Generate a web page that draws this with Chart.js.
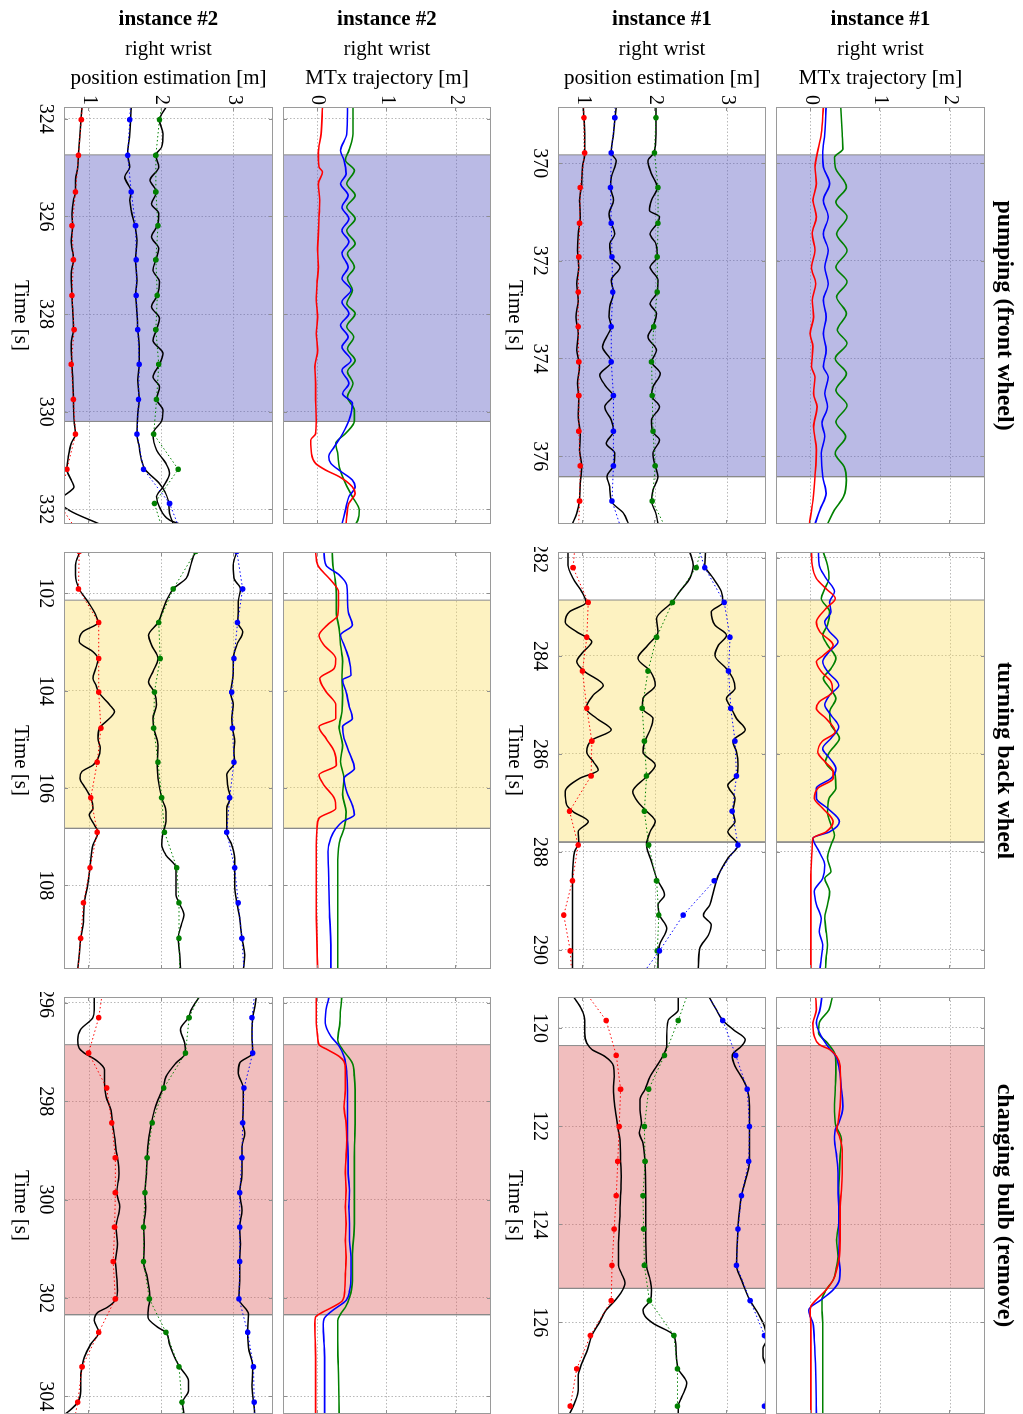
<!DOCTYPE html>
<html>
<head>
<meta charset="utf-8">
<script src="https://cdn.jsdelivr.net/npm/chart.js@4.4.1/dist/chart.umd.min.js"></script>
<style>
html, body { margin: 0; padding: 0; background: #fff; overflow: hidden; }
/* the figure is laid out in landscape and turned a quarter clockwise */
#fig { position: absolute; left: 0; top: 0; width: 1414px; height: 1023px;
       transform-origin: 0 0; transform: translateX(1023px) rotate(90deg); }
#fig canvas { position: absolute; }
</style>
</head>
<body>
<div id="fig"></div>
<script>
// ---------- pumping (front wheel), instance #1 ----------
const pump1Time = [368.85, 377.39];
const pump1Ticks = [370, 372, 374, 376];
const pump1Band = [369.83, 376.42];
const pump1RedT = [368.85,369.40,369.81,370.08,370.42,370.76,371.10,371.45,371.79,372.13,372.47,372.81,373.15,373.49,373.76,374.17,374.38,374.72,374.99,375.40,375.88,376.42,376.90,377.39];
const pump1RedV = [0.18,0.15,0.09,0.06,0.08,0.03,0.08,0.02,0.06,0.01,0.07,0.02,0.04,-0.01,0.03,0.01,0.06,0.04,0.09,0.04,0.08,0.06,0.03,-0.02];
const pump1BlueT = [368.85,369.40,369.81,370.08,370.42,370.76,371.10,371.45,371.79,372.13,372.47,372.81,373.15,373.49,373.83,374.17,374.38,374.72,374.99,375.33,375.60,375.94,376.42,376.76,377.10,377.39];
const pump1BlueV = [0.22,0.20,0.17,0.18,0.27,0.18,0.25,0.18,0.25,0.20,0.25,0.18,0.22,0.18,0.22,0.18,0.25,0.20,0.24,0.16,0.20,0.15,0.17,0.22,0.13,0.06];
const pump1GreenT = [368.85,369.40,369.71,369.88,370.08,370.49,370.80,371.10,371.45,371.79,372.13,372.43,372.74,373.08,373.42,373.69,374.00,374.31,374.65,374.96,375.30,375.60,375.94,376.22,376.49,376.83,377.10,377.39];
const pump1GreenV = [0.43,0.45,0.46,0.34,0.35,0.51,0.36,0.52,0.37,0.52,0.36,0.52,0.37,0.51,0.38,0.52,0.35,0.51,0.36,0.52,0.36,0.50,0.35,0.48,0.51,0.47,0.34,0.24];
const pump1KaT = [368.85,369.40,369.81,370.08,370.42,370.76,371.10,371.45,371.79,372.13,372.47,372.81,373.15,373.49,373.83,374.17,374.51,374.85,375.19,375.54,375.88,376.22,376.56,376.90,377.17,377.39];
const pump1KaV = [1.00,1.02,1.02,0.99,0.98,0.95,0.96,0.93,0.92,0.94,0.91,0.93,0.90,0.93,0.91,0.95,0.92,0.94,0.93,0.96,0.95,0.98,0.96,0.95,0.91,0.85];
const pump1KbT = [368.85,369.13,369.40,369.79,369.95,370.29,370.50,370.76,371.04,371.23,371.45,371.65,371.92,372.13,372.40,372.64,372.94,373.15,373.35,373.49,373.76,374.07,374.34,374.58,374.76,374.99,375.26,375.49,375.74,375.94,376.20,376.42,376.63,376.92,377.17,377.39];
const pump1KbV = [1.46,1.44,1.42,1.39,1.46,1.39,1.38,1.42,1.36,1.39,1.44,1.37,1.39,1.51,1.39,1.42,1.37,1.36,1.39,1.35,1.27,1.39,1.23,1.32,1.41,1.30,1.39,1.42,1.32,1.44,1.42,1.33,1.37,1.39,1.56,1.63];
const pump1KcT = [368.85,369.40,369.79,369.95,370.22,370.50,370.76,370.97,371.10,371.23,371.45,371.65,371.92,372.13,372.40,372.64,372.88,373.08,373.35,373.56,373.83,374.07,374.31,374.58,374.76,374.99,375.26,375.49,375.67,375.94,376.20,376.42,376.69,376.92,377.17,377.39];
const pump1KcV = [2.01,2.01,1.98,1.90,1.95,2.03,1.95,1.92,2.06,2.03,1.93,2.01,2.03,1.93,2.04,2.03,1.93,2.02,1.97,1.90,2.02,1.95,2.07,1.97,1.95,2.06,1.95,1.96,2.06,1.97,2.00,2.04,1.97,1.95,2.01,2.04];
const pump1DotT = [368.36,369.07,369.79,370.50,371.23,371.92,372.64,373.35,374.07,374.76,375.49,376.20,376.92,377.63];
const pump1DotR = [1.00,1.01,1.02,0.96,0.95,0.94,0.93,0.93,0.94,0.94,0.94,0.96,0.95,0.93];
const pump1DotB = [1.44,1.44,1.39,1.38,1.39,1.40,1.41,1.39,1.39,1.42,1.42,1.42,1.40,1.56];
const pump1DotG = [2.01,2.01,1.99,2.04,2.04,2.03,2.03,1.98,1.95,1.96,1.97,2.00,1.96,2.20];

// ---------- pumping (front wheel), instance #2 ----------
const pump2Time = [323.76, 332.30];
const pump2Ticks = [324, 326, 328, 330, 332];
const pump2Band = [324.74, 330.20];
const pump2RedT = [323.76,324.31,324.72,324.99,325.09,325.33,325.67,326.01,326.35,326.69,327.04,327.38,327.72,328.06,328.40,328.74,329.08,329.42,329.76,330.19,330.45,330.58,330.86,331.06,331.20,331.33,331.54,331.67,331.88,332.15,332.30];
const pump2RedV = [0.07,0.05,0.01,0.02,0.07,0.01,0.03,0.02,0.01,0.00,0.01,-0.01,-0.02,0.00,-0.02,0.00,-0.04,-0.03,-0.03,-0.02,-0.03,-0.10,-0.09,-0.03,0.12,0.31,0.50,0.54,0.45,0.42,0.41];
const pump2BlueT = [323.76,324.31,324.65,324.85,325.13,325.33,325.57,325.81,326.05,326.29,326.52,326.76,327.04,327.27,327.51,327.75,327.99,328.23,328.47,328.67,328.95,329.15,329.42,329.63,329.83,330.19,330.45,330.72,330.92,331.06,331.20,331.40,331.54,331.74,332.02,332.30];
const pump2BlueV = [0.43,0.42,0.33,0.38,0.41,0.33,0.44,0.35,0.45,0.35,0.45,0.35,0.44,0.35,0.48,0.35,0.45,0.33,0.44,0.35,0.48,0.35,0.45,0.36,0.50,0.45,0.36,0.24,0.16,0.19,0.31,0.50,0.54,0.45,0.40,0.35];
const pump2GreenT = [323.76,324.31,324.65,324.85,325.06,325.33,325.57,325.81,326.05,326.29,326.56,326.76,327.04,327.27,327.51,327.79,327.99,328.26,328.47,328.71,328.95,329.18,329.42,329.70,329.97,330.19,330.45,330.65,330.86,331.13,331.47,331.74,332.02,332.22,332.30];
const pump2GreenV = [0.51,0.51,0.45,0.40,0.53,0.42,0.54,0.42,0.54,0.42,0.54,0.43,0.53,0.43,0.50,0.42,0.54,0.42,0.52,0.43,0.54,0.43,0.51,0.43,0.53,0.53,0.40,0.26,0.29,0.31,0.40,0.50,0.60,0.58,0.55];
const pump2KaT = [323.76,324.31,324.75,324.99,325.26,325.50,325.67,325.94,326.19,326.49,326.89,327.17,327.62,327.92,328.32,328.60,329.03,329.29,329.75,330.19,330.46,330.65,330.92,331.18,331.40,331.54,331.67,331.81,332.02,332.30];
const pump2KaV = [0.90,0.87,0.85,0.84,0.81,0.81,0.78,0.76,0.77,0.75,0.78,0.75,0.76,0.77,0.78,0.75,0.76,0.77,0.78,0.79,0.81,0.75,0.71,0.69,0.75,0.79,0.70,0.58,0.72,1.14];
const pump2KbT = [323.76,324.31,324.75,324.99,325.19,325.50,325.67,325.88,326.19,326.49,326.89,327.31,327.62,327.99,328.32,328.67,329.03,329.35,329.75,330.04,330.46,330.72,330.99,331.20,331.47,331.81,332.08,332.30];
const pump2KbV = [1.58,1.56,1.53,1.56,1.49,1.58,1.56,1.58,1.63,1.66,1.64,1.66,1.64,1.66,1.67,1.69,1.69,1.67,1.69,1.67,1.66,1.69,1.72,1.78,1.97,2.09,2.11,2.16];
const pump2KcT = [323.76,324.03,324.31,324.58,324.75,324.99,325.26,325.50,325.74,325.94,326.19,326.42,326.66,326.89,327.10,327.34,327.62,327.85,328.09,328.32,328.54,328.81,329.03,329.29,329.49,329.75,329.97,330.19,330.45,330.79,331.06,331.26,331.54,331.74,331.95,332.22,332.30];
const pump2KcV = [2.06,1.97,2.02,2.00,1.92,1.96,1.84,1.93,1.86,1.96,1.94,1.86,1.96,1.92,1.88,1.97,1.94,1.86,1.97,1.93,1.88,2.02,1.97,1.88,1.97,1.93,2.02,2.00,1.88,1.93,2.06,2.11,2.02,1.93,1.97,2.11,2.25];
const pump2DotT = [323.30,324.02,324.75,325.50,326.19,326.89,327.62,328.32,329.03,329.75,330.46,331.18,331.88,332.60];
const pump2DotR = [0.92,0.89,0.85,0.81,0.76,0.78,0.76,0.79,0.75,0.78,0.81,0.69,0.58,0.90];
const pump2DotB = [1.58,1.56,1.53,1.58,1.64,1.65,1.65,1.67,1.69,1.68,1.66,1.75,2.11,2.30];
const pump2DotG = [2.05,1.97,1.92,1.92,1.95,1.92,1.94,1.92,1.96,1.93,1.89,2.23,1.90,2.05];

// ---------- turning back wheel, instance #1 ----------
const turn1Time = [281.88, 290.39];
const turn1Ticks = [282, 284, 286, 288, 290];
const turn1Band = [282.86, 287.80];
const turn1RedT = [281.88,282.15,282.42,282.63,282.83,283.03,283.31,283.51,283.78,283.99,284.12,284.32,284.53,284.73,284.94,285.07,285.28,285.55,285.75,285.96,286.16,286.36,286.50,286.70,286.91,287.11,287.38,287.59,287.72,287.86,288.54,290.39];
const turn1RedV = [0.01,0.02,0.08,0.22,0.35,0.22,0.08,0.13,0.32,0.18,0.08,0.15,0.29,0.31,0.12,0.08,0.22,0.35,0.16,0.10,0.20,0.32,0.32,0.10,0.05,0.17,0.32,0.22,0.03,0.02,0.00,0.00];
const turn1BlueT = [281.88,282.15,282.42,282.69,282.90,283.10,283.31,283.51,283.71,283.92,284.12,284.32,284.60,284.80,285.00,285.21,285.45,285.68,285.89,286.09,286.30,286.50,286.70,286.91,287.11,287.38,287.59,287.72,288.00,288.27,288.54,288.81,289.08,289.36,289.63,289.90,290.17,290.39];
const turn1BlueV = [0.11,0.12,0.22,0.34,0.27,0.29,0.20,0.27,0.39,0.26,0.17,0.24,0.40,0.27,0.20,0.29,0.40,0.29,0.17,0.27,0.36,0.29,0.08,0.08,0.24,0.41,0.27,0.03,0.12,0.20,0.17,0.05,0.08,0.15,0.12,0.17,0.15,0.13];
const turn1GreenT = [281.88,282.15,282.42,282.63,282.83,283.10,283.37,283.58,283.78,284.05,284.26,284.46,284.66,284.87,285.14,285.41,285.68,285.96,286.16,286.43,286.70,286.91,287.18,287.45,287.66,287.86,288.13,288.40,288.54,288.81,289.08,289.36,289.63,289.90,290.17,290.39];
const turn1GreenV = [0.18,0.24,0.26,0.20,0.15,0.27,0.24,0.17,0.24,0.36,0.29,0.18,0.27,0.36,0.27,0.29,0.41,0.27,0.21,0.35,0.36,0.26,0.24,0.29,0.34,0.29,0.24,0.29,0.20,0.27,0.24,0.20,0.22,0.24,0.22,0.21];
const turn1KaT = [281.88,282.15,282.42,282.69,282.91,283.10,283.31,283.51,283.71,283.92,284.12,284.32,284.60,284.80,285.07,285.28,285.51,285.72,285.96,286.16,286.33,286.50,286.77,287.04,287.18,287.38,287.59,287.79,288.00,288.27,288.59,289.22,289.90,290.39];
const turn1KaV = [0.79,0.79,0.86,0.98,1.04,0.81,0.75,0.91,1.12,1.00,0.91,1.02,1.28,1.14,1.04,1.19,1.39,1.12,1.05,1.14,1.21,0.95,0.75,0.77,0.86,1.07,0.93,0.94,0.88,0.86,0.85,0.85,0.85,0.85];
const turn1KbT = [281.88,282.15,282.42,282.69,282.91,283.24,283.51,283.78,284.05,284.31,284.60,284.87,285.07,285.28,285.51,285.74,285.96,286.23,286.45,286.77,286.98,287.17,287.38,287.59,287.86,288.20,288.54,288.88,289.08,289.29,289.56,289.90,290.24,290.39];
const turn1KbV = [2.48,2.53,2.48,2.34,2.23,2.02,2.04,1.90,1.76,1.93,2.00,1.83,1.82,1.97,1.93,1.86,1.83,2.00,1.89,1.69,1.76,1.88,2.00,1.93,1.88,1.95,2.02,2.13,2.04,2.06,2.16,2.06,2.04,2.04];
const turn1KcT = [281.88,282.15,282.42,282.69,282.91,283.10,283.37,283.58,283.78,283.99,284.26,284.46,284.66,284.87,285.07,285.28,285.51,285.74,285.96,286.23,286.45,286.64,286.91,287.17,287.38,287.59,287.86,288.13,288.47,288.81,289.08,289.29,289.49,289.70,289.97,290.39];
const turn1KcV = [2.70,2.69,2.81,2.92,2.94,2.78,2.83,2.99,2.88,2.83,2.99,3.08,3.11,2.99,3.06,3.13,3.25,3.08,3.13,3.15,3.13,3.01,3.11,3.08,3.11,3.01,3.15,3.01,2.88,2.81,2.76,2.67,2.78,2.74,2.62,2.60];
const turn1DotT = [281.50,282.20,282.91,283.62,284.31,285.07,285.74,286.45,287.17,287.86,288.59,289.29,290.02,290.70];
const turn1DotR = [0.90,0.86,1.07,1.05,0.99,1.05,1.12,1.11,0.81,0.93,0.85,0.73,0.82,0.85];
const turn1DotB = [2.53,2.69,2.96,3.04,3.02,3.05,3.11,3.13,3.07,3.15,2.82,2.39,2.06,1.72];
const turn1DotG = [2.70,2.57,2.24,2.02,1.90,1.82,1.85,1.88,1.85,1.91,2.02,2.05,2.03,2.03];

// ---------- turning back wheel, instance #2 ----------
const turn2Time = [101.15, 109.72];
const turn2Ticks = [102, 104, 106, 108];
const turn2Band = [102.14, 106.83];
const turn2RedT = [101.14,101.42,101.55,101.76,101.97,102.24,102.45,102.65,102.86,103.06,103.34,103.54,103.75,104.02,104.29,104.57,104.74,104.98,105.25,105.53,105.73,105.94,106.21,106.42,106.62,106.83,107.17,107.86,108.54,109.72];
const turn2RedV = [-0.03,0.00,0.07,0.21,0.30,0.30,0.29,0.14,0.02,0.09,0.26,0.24,0.03,0.12,0.26,0.26,0.02,0.12,0.24,0.27,0.02,0.09,0.24,0.26,0.02,-0.01,-0.02,-0.02,-0.02,0.00];
const turn2BlueT = [101.14,101.42,101.62,101.83,102.10,102.38,102.65,102.86,103.06,103.34,103.68,103.78,104.02,104.29,104.57,104.74,104.98,105.25,105.60,105.80,106.08,106.35,106.55,106.69,106.84,107.03,107.31,107.86,108.54,109.23,109.72];
const turn2BlueV = [0.09,0.12,0.31,0.42,0.43,0.44,0.50,0.33,0.38,0.45,0.48,0.36,0.41,0.45,0.50,0.36,0.38,0.45,0.53,0.38,0.42,0.50,0.53,0.36,0.26,0.19,0.15,0.16,0.17,0.19,0.19];
const turn2GreenT = [101.14,101.42,101.69,102.03,102.38,102.72,103.06,103.40,103.75,104.09,104.43,104.77,105.12,105.46,105.80,106.14,106.49,106.84,107.03,107.24,107.58,108.20,108.88,109.72];
const turn2GreenV = [0.21,0.22,0.25,0.27,0.27,0.31,0.33,0.36,0.35,0.36,0.35,0.31,0.36,0.33,0.38,0.36,0.41,0.38,0.33,0.30,0.29,0.29,0.29,0.29];
const turn2KaT = [101.14,101.42,101.62,101.91,102.17,102.45,102.60,102.79,102.99,103.20,103.34,103.54,103.75,103.88,104.03,104.29,104.43,104.57,104.77,104.98,105.18,105.39,105.53,105.66,105.80,106.01,106.20,106.42,106.55,106.76,106.91,107.17,107.64,107.99,108.36,108.75,109.09,109.43,109.72];
const turn2KaV = [0.87,0.81,0.81,0.86,0.98,1.09,1.12,0.91,0.86,1.05,1.12,1.09,1.05,1.09,1.13,1.28,1.35,1.28,1.14,1.12,1.15,1.12,1.05,0.90,0.87,0.95,1.02,1.05,1.00,1.07,1.12,1.05,1.01,0.98,0.93,0.92,0.88,0.86,0.84];
const turn2KbT = [101.14,101.28,101.49,101.69,101.91,102.17,102.60,102.86,103.06,103.34,103.61,103.82,104.03,104.29,104.57,104.77,105.12,105.47,105.80,106.20,106.49,106.69,106.91,107.17,107.38,107.64,107.86,108.20,108.36,108.61,108.82,109.09,109.43,109.72];
const turn2KbV = [2.47,2.43,2.39,2.34,2.16,2.06,1.95,1.82,1.86,1.95,1.88,1.82,1.90,1.93,1.88,1.89,1.95,1.94,1.95,2.00,2.06,2.06,2.02,2.00,2.06,2.20,2.20,2.20,2.24,2.31,2.27,2.23,2.25,2.26];
const turn2KcT = [101.14,101.42,101.69,101.91,102.17,102.38,102.60,102.79,103.06,103.34,103.61,103.88,104.03,104.29,104.57,104.77,105.05,105.25,105.47,105.73,106.01,106.20,106.42,106.69,106.91,107.17,107.45,107.64,107.99,108.36,108.68,109.09,109.43,109.72];
const turn2KcV = [3.04,2.99,3.00,3.09,3.06,3.06,3.05,3.12,3.04,2.99,2.99,2.97,2.95,2.99,2.97,2.98,3.01,3.00,3.01,2.90,2.92,2.95,2.90,2.90,2.90,2.97,3.01,3.01,3.01,3.04,3.08,3.11,3.15,3.13];
const turn2DotT = [100.40,101.14,101.91,102.60,103.34,104.03,104.77,105.47,106.20,106.91,107.64,108.36,109.09,109.80];
const turn2DotR = [0.87,0.86,0.85,1.13,1.13,1.13,1.16,1.11,1.02,1.11,1.01,0.92,0.88,0.84];
const turn2DotB = [3.00,3.04,3.12,3.05,3.00,2.97,2.98,3.00,2.94,2.90,3.01,3.06,3.11,3.14];
const turn2DotG = [2.60,2.47,2.16,1.96,1.98,1.90,1.89,1.95,2.00,2.04,2.21,2.24,2.24,2.25];

// ---------- changing bulb (remove), instance #1 ----------
const bulb1Time = [119.37, 127.87];
const bulb1Ticks = [120, 122, 124, 126];
const bulb1Band = [120.36, 125.31];
const bulb1RedT = [119.35,119.63,119.90,120.17,120.34,120.44,120.58,120.78,121.26,121.60,121.94,122.07,122.21,122.48,122.96,123.30,123.64,123.98,124.32,124.66,124.93,125.14,125.34,125.54,125.68,125.82,126.02,127.87];
const bulb1RedV = [0.07,0.08,0.03,0.05,0.12,0.27,0.37,0.42,0.43,0.42,0.39,0.37,0.41,0.45,0.45,0.44,0.42,0.42,0.42,0.41,0.37,0.32,0.22,0.08,0.00,-0.01,0.00,0.00];
const bulb1BlueT = [119.35,119.63,119.90,120.17,120.37,120.58,120.78,121.26,121.60,121.94,122.07,122.28,122.62,122.96,123.30,123.64,123.98,124.32,124.66,124.93,125.14,125.34,125.54,125.75,125.88,126.02,126.36,127.04,127.87];
const bulb1BlueV = [0.16,0.13,0.08,0.15,0.24,0.36,0.40,0.44,0.46,0.40,0.35,0.34,0.37,0.39,0.39,0.40,0.40,0.41,0.40,0.42,0.41,0.32,0.15,-0.03,-0.01,0.03,0.05,0.07,0.08];
const bulb1GreenT = [119.35,119.63,119.90,120.10,120.31,120.51,120.71,120.92,121.26,121.60,121.94,122.28,122.62,122.96,123.30,123.64,123.98,124.32,124.66,124.93,125.14,125.34,125.54,125.75,126.02,126.70,127.87];
const bulb1GreenV = [0.31,0.26,0.12,0.11,0.24,0.34,0.36,0.36,0.35,0.34,0.35,0.44,0.42,0.41,0.40,0.41,0.40,0.37,0.39,0.36,0.32,0.22,0.16,0.16,0.17,0.17,0.17];
const bulb1KaT = [119.35,119.63,119.85,120.10,120.31,120.44,120.58,120.78,120.99,121.25,121.60,122.01,122.28,122.72,123.03,123.42,123.84,124.10,124.52,124.84,125.00,125.20,125.41,125.56,125.75,126.02,126.27,126.56,126.84,127.11,127.38,127.65,127.87];
const bulb1KaV = [0.86,0.98,1.02,1.02,1.05,1.12,1.30,1.42,1.43,1.42,1.44,1.48,1.51,1.52,1.53,1.52,1.51,1.50,1.49,1.49,1.53,1.58,1.52,1.44,1.32,1.22,1.12,1.06,0.98,0.93,0.93,0.88,0.81];
const bulb1KbT = [119.35,119.63,119.85,120.17,120.37,120.56,120.78,120.99,121.25,121.46,121.67,121.94,122.14,122.35,122.72,123.42,124.10,124.84,125.14,125.34,125.56,125.75,125.88,126.02,126.27,126.56,126.95,127.24,127.52,127.71,127.87];
const bulb1KbV = [2.32,2.32,2.18,2.16,2.16,2.11,2.02,1.93,1.86,1.79,1.79,1.81,1.78,1.83,1.86,1.87,1.87,1.88,1.93,1.95,1.93,1.83,1.86,1.97,2.26,2.29,2.32,2.44,2.37,2.32,2.32];
const bulb1KcT = [119.35,119.63,119.85,120.03,120.24,120.37,120.56,120.78,121.05,121.25,121.60,122.01,122.35,122.72,123.03,123.42,124.10,124.84,125.14,125.56,125.82,126.09,126.36,126.53,126.70,126.90,127.11,127.87];
const bulb1KcV = [2.74,2.85,2.94,3.08,3.25,3.20,3.07,3.11,3.22,3.28,3.31,3.31,3.31,3.31,3.27,3.20,3.15,3.13,3.20,3.32,3.43,3.52,3.55,3.50,3.50,3.54,3.54,3.54];
const bulb1DotT = [119.15,119.85,120.56,121.25,122.01,122.72,123.42,124.10,124.84,125.56,126.27,126.95,127.71];
const bulb1DotR = [0.97,1.32,1.46,1.52,1.50,1.48,1.46,1.43,1.40,1.39,1.10,0.91,0.82];
const bulb1DotB = [2.66,2.94,3.12,3.28,3.31,3.30,3.20,3.15,3.13,3.32,3.52,3.60,3.52];
const bulb1DotG = [2.49,2.32,2.13,1.91,1.85,1.86,1.83,1.84,1.85,1.92,2.26,2.31,2.31];

// ---------- changing bulb (remove), instance #2 ----------
const bulb2Time = [295.88, 304.36];
const bulb2Ticks = [296, 298, 300, 302, 304];
const bulb2Band = [296.85, 302.34];
const bulb2RedT = [295.86,296.41,296.68,296.85,296.95,297.09,297.19,297.36,297.77,298.11,298.45,298.79,299.13,299.47,299.81,300.15,300.49,300.83,301.17,301.51,301.85,302.05,302.19,302.29,302.39,302.53,303.21,304.38];
const bulb2RedV = [-0.02,-0.02,0.00,0.02,0.14,0.31,0.38,0.40,0.40,0.38,0.41,0.42,0.41,0.40,0.41,0.40,0.41,0.40,0.41,0.40,0.39,0.36,0.21,0.07,-0.03,-0.04,-0.03,-0.03];
const bulb2BlueT = [295.86,296.14,296.41,296.68,296.88,297.09,297.43,297.77,298.11,298.45,298.79,299.13,299.47,299.81,300.15,300.49,300.83,301.17,301.51,301.85,302.05,302.26,302.43,302.53,302.87,303.21,304.38];
const bulb2BlueV = [0.17,0.12,0.11,0.19,0.31,0.38,0.42,0.43,0.43,0.43,0.43,0.44,0.44,0.46,0.45,0.46,0.46,0.48,0.48,0.46,0.41,0.21,0.09,0.08,0.09,0.10,0.10];
const bulb2GreenT = [295.86,296.14,296.41,296.75,296.95,297.22,297.50,297.77,298.45,299.13,299.81,300.49,301.17,301.65,301.99,302.19,302.33,302.46,302.87,303.55,304.38];
const bulb2GreenV = [0.35,0.33,0.32,0.29,0.36,0.50,0.53,0.54,0.54,0.53,0.53,0.53,0.50,0.50,0.46,0.40,0.33,0.29,0.29,0.30,0.31];
const bulb2KaT = [295.86,296.14,296.30,296.54,296.75,296.92,297.02,297.16,297.36,297.63,297.90,298.18,298.44,298.72,298.99,299.15,299.47,299.86,300.15,300.56,300.90,301.26,301.58,301.85,302.02,302.19,302.29,302.46,302.70,302.94,303.21,303.40,303.62,303.89,304.12,304.30,304.38];
const bulb2KaV = [1.07,1.07,1.05,0.88,0.84,0.86,0.93,1.09,1.21,1.21,1.23,1.30,1.32,1.35,1.37,1.39,1.41,1.38,1.42,1.37,1.39,1.36,1.38,1.39,1.37,1.25,1.12,1.07,1.13,1.02,0.93,0.90,0.88,0.88,0.84,0.72,0.65];
const bulb2KbT = [295.86,296.14,296.30,296.54,296.82,297.02,297.22,297.50,297.73,297.97,298.18,298.44,298.79,299.15,299.47,299.86,300.15,300.56,300.90,301.26,301.58,302.02,302.19,302.39,302.60,302.70,302.94,303.21,303.40,303.69,303.89,304.12,304.38];
const bulb2KbV = [2.53,2.41,2.37,2.26,2.32,2.33,2.20,2.06,2.02,1.95,1.90,1.86,1.82,1.80,1.79,1.77,1.78,1.75,1.76,1.75,1.80,1.84,1.82,1.81,1.95,2.06,2.11,2.18,2.25,2.37,2.37,2.29,2.31];
const bulb2KcT = [295.86,296.14,296.30,296.54,296.75,297.02,297.22,297.43,297.73,298.11,298.44,298.65,298.93,299.15,299.47,299.86,300.22,300.56,300.90,301.26,301.65,302.02,302.33,302.70,303.01,303.40,303.76,304.12,304.38];
const bulb2KcV = [3.31,3.28,3.26,3.25,3.25,3.26,3.08,3.06,3.13,3.13,3.12,3.15,3.11,3.11,3.11,3.08,3.11,3.08,3.09,3.08,3.08,3.07,3.20,3.19,3.20,3.26,3.25,3.27,3.29];
const bulb2DotT = [295.60,296.30,297.02,297.73,298.44,299.15,299.86,300.56,301.26,302.02,302.70,303.40,304.12,304.80];
const bulb2DotR = [1.20,1.13,0.99,1.24,1.31,1.36,1.36,1.35,1.33,1.36,1.13,0.90,0.84,0.75];
const bulb2DotB = [3.30,3.25,3.26,3.14,3.12,3.11,3.08,3.08,3.08,3.07,3.19,3.27,3.28,3.30];
const bulb2DotG = [2.60,2.38,2.33,2.03,1.87,1.80,1.77,1.75,1.75,1.83,2.06,2.24,2.28,2.30];

// value axes
const mtxRange = [-0.5, 2.5];
const mtxTicks = [0, 1, 2];
const posRange = [0.65, 3.54];
const posTicks = [1, 2, 3];

const colTitles = ['pumping (front wheel)', 'turning back wheel', 'changing bulb (remove)'];
const rowInstance = ['instance #1', 'instance #1', 'instance #2', 'instance #2'];
const rowLabel = ['MTx trajectory [m]', 'position estimation [m]', 'MTx trajectory [m]', 'position estimation [m]'];

// layout of the landscape figure
const FONT = 'Liberation Serif';
const colLeft = [107, 552, 997];
const plotW = 417;
const rowTop = [38, 257, 532, 750];
const rowH = [209, 208, 208, 209];
const bandFill = ['rgba(90,90,192,0.42)', 'rgba(250,222,100,0.4)', 'rgba(220,92,92,0.4)'];
const RED = '#ff0000', BLUE = '#0000ff', GREEN = '#008000';
const GRID = '#b8b8b8';

Chart.defaults.font.family = FONT;
Chart.defaults.color = '#000';

const xy = (T, V) => T.map((t, i) => ({ x: t, y: V[i] }));

// box around the plot, with short inward tick marks at every grid line
const framePlugin = {
    id: 'frame',
    afterDatasetsDraw(chart) {
        const a = chart.chartArea;
        const ctx = chart.ctx;
        const tl = 4;
        ctx.save();
        ctx.strokeStyle = '#8f8f8f';
        ctx.lineWidth = 1;
        ctx.beginPath();
        chart.scales.x.ticks.forEach(t => {
            const px = Math.round(chart.scales.x.getPixelForValue(t.value)) + 0.5;
            ctx.moveTo(px, a.top); ctx.lineTo(px, a.top + tl);
            ctx.moveTo(px, a.bottom); ctx.lineTo(px, a.bottom - tl);
        });
        chart.scales.y.ticks.forEach(t => {
            const py = Math.round(chart.scales.y.getPixelForValue(t.value)) + 0.5;
            ctx.moveTo(a.left, py); ctx.lineTo(a.left + tl, py);
            ctx.moveTo(a.right, py); ctx.lineTo(a.right - tl, py);
        });
        ctx.stroke();
        ctx.strokeStyle = '#9a9a9a';
        ctx.strokeRect(a.left + 0.5, a.top + 0.5, a.right - a.left - 1, a.bottom - a.top - 1);
        ctx.restore();
    }
};

function curve(T, V, color, width, order) {
    return {
        data: xy(T, V), borderColor: color, borderWidth: width,
        pointRadius: 0, fill: false, cubicInterpolationMode: 'monotone', order: order
    };
}

function dotted(T, V, color) {
    return {
        data: xy(T, V), borderColor: color, borderWidth: 1, borderDash: [1.5, 2.5],
        pointRadius: 2.8, pointBackgroundColor: color, pointBorderColor: color,
        pointBorderWidth: 0, tension: 0, fill: false, order: 1
    };
}

function panel(col, row, time, ticks, band, datasets) {
    const isMtx = row === 0 || row === 2;
    const showTime = !isMtx;
    const range = isMtx ? mtxRange : posRange;
    const vTicks = isMtx ? mtxTicks : posTicks;
    const leftW = col === 0 ? 107 : 5;
    const topH = row === 0 ? 38 : 5;
    const bottomH = showTime ? 62 : 5;
    const rightW = 5;

    const canvas = document.createElement('canvas');
    const w = leftW + plotW + rightW;
    const h = topH + rowH[row] + bottomH;
    canvas.width = w;
    canvas.height = h;
    canvas.style.left = (colLeft[col] - leftW) + 'px';
    canvas.style.top = (rowTop[row] - topH) + 'px';
    canvas.style.width = w + 'px';
    canvas.style.height = h + 'px';
    document.getElementById('fig').appendChild(canvas);

    const bandSet = {
        data: [{ x: band[0], y: range[0] }, { x: band[0], y: range[1] },
               { x: band[1], y: range[1] }, { x: band[1], y: range[0] }],
        borderColor: '#8a8a8a', borderWidth: 1, backgroundColor: bandFill[col],
        fill: 'start', pointRadius: 0, tension: 0, order: 10
    };

    const scales = {
        x: {
            type: 'linear', min: time[0], max: time[1],
            grid: { color: GRID, drawTicks: false, lineWidth: 1 },
            border: { display: false, dash: [1.5, 2] },
            ticks: { display: showTime, padding: 7, font: { size: 20 }, color: '#000', autoSkip: false, maxRotation: 0 },
            title: { display: showTime, text: 'Time [s]', font: { size: 21 }, color: '#000', padding: { top: 0, bottom: 6 } },
            afterBuildTicks: s => { s.ticks = ticks.map(v => ({ value: v })); },
            afterFit: s => { s.height = bottomH; s.paddingLeft = 0; s.paddingRight = 0; }
        },
        y: {
            type: 'linear', position: 'left', min: range[0], max: range[1],
            grid: { color: GRID, drawTicks: false, lineWidth: 1 },
            border: { display: false, dash: [1.5, 2] },
            ticks: { display: col === 0, padding: 2, font: { size: 20 }, color: '#000' },
            title: {
                display: col === 0, text: ['right wrist', rowLabel[row]],
                font: { size: 21, lineHeight: 1.35 }, color: '#000', padding: { top: 0.8, bottom: 0 }
            },
            afterBuildTicks: s => { s.ticks = vTicks.map(v => ({ value: v })); },
            afterFit: s => { s.width = col === 0 ? 72 : leftW; s.paddingTop = 0; s.paddingBottom = 0; }
        }
    };
    if (col === 0) {
        scales.inst = {
            type: 'linear', position: 'left', weight: 1, min: 0, max: 1,
            grid: { display: false }, border: { display: false }, ticks: { display: false },
            title: {
                display: true, text: rowInstance[row],
                font: { size: 21, weight: 'bold', lineHeight: 1.35 }, color: '#000', padding: { top: 5.8, bottom: 0 }
            },
            afterFit: s => { s.width = 35; s.paddingTop = 0; s.paddingBottom = 0; }
        };
    }

    new Chart(canvas.getContext('2d'), {
        type: 'line',
        data: { datasets: [bandSet].concat(datasets) },
        options: {
            responsive: false,
            animation: false,
            devicePixelRatio: 1,
            events: [],
            layout: { padding: { top: row === 0 ? 0 : topH, right: rightW, left: 0, bottom: 0 } },
            plugins: {
                legend: { display: false },
                tooltip: { enabled: false },
                title: {
                    display: row === 0, text: colTitles[col], fullSize: false,
                    font: { size: 24, weight: 'bold' }, color: '#000', padding: { top: 4, bottom: 5.2 }
                }
            },
            scales: scales
        },
        plugins: [framePlugin]
    });
}

function mtxSets(rT, rV, bT, bV, gT, gV) {
    return [curve(rT, rV, RED, 1.6, 2), curve(bT, bV, BLUE, 1.6, 3), curve(gT, gV, GREEN, 1.6, 4)];
}

function posSets(aT, aV, bT, bV, cT, cV, dT, dR, dB, dG) {
    return [
        curve(aT, aV, '#000', 1.5, 5), curve(bT, bV, '#000', 1.5, 5), curve(cT, cV, '#000', 1.5, 5),
        dotted(dT, dR, RED), dotted(dT, dB, BLUE), dotted(dT, dG, GREEN)
    ];
}

// pumping
panel(0, 0, pump1Time, pump1Ticks, pump1Band, mtxSets(pump1RedT, pump1RedV, pump1BlueT, pump1BlueV, pump1GreenT, pump1GreenV));
panel(0, 1, pump1Time, pump1Ticks, pump1Band, posSets(pump1KaT, pump1KaV, pump1KbT, pump1KbV, pump1KcT, pump1KcV, pump1DotT, pump1DotR, pump1DotB, pump1DotG));
panel(0, 2, pump2Time, pump2Ticks, pump2Band, mtxSets(pump2RedT, pump2RedV, pump2BlueT, pump2BlueV, pump2GreenT, pump2GreenV));
panel(0, 3, pump2Time, pump2Ticks, pump2Band, posSets(pump2KaT, pump2KaV, pump2KbT, pump2KbV, pump2KcT, pump2KcV, pump2DotT, pump2DotR, pump2DotB, pump2DotG));
// turning back wheel
panel(1, 0, turn1Time, turn1Ticks, turn1Band, mtxSets(turn1RedT, turn1RedV, turn1BlueT, turn1BlueV, turn1GreenT, turn1GreenV));
panel(1, 1, turn1Time, turn1Ticks, turn1Band, posSets(turn1KaT, turn1KaV, turn1KbT, turn1KbV, turn1KcT, turn1KcV, turn1DotT, turn1DotR, turn1DotB, turn1DotG));
panel(1, 2, turn2Time, turn2Ticks, turn2Band, mtxSets(turn2RedT, turn2RedV, turn2BlueT, turn2BlueV, turn2GreenT, turn2GreenV));
panel(1, 3, turn2Time, turn2Ticks, turn2Band, posSets(turn2KaT, turn2KaV, turn2KbT, turn2KbV, turn2KcT, turn2KcV, turn2DotT, turn2DotR, turn2DotB, turn2DotG));
// changing bulb
panel(2, 0, bulb1Time, bulb1Ticks, bulb1Band, mtxSets(bulb1RedT, bulb1RedV, bulb1BlueT, bulb1BlueV, bulb1GreenT, bulb1GreenV));
panel(2, 1, bulb1Time, bulb1Ticks, bulb1Band, posSets(bulb1KaT, bulb1KaV, bulb1KbT, bulb1KbV, bulb1KcT, bulb1KcV, bulb1DotT, bulb1DotR, bulb1DotB, bulb1DotG));
panel(2, 2, bulb2Time, bulb2Ticks, bulb2Band, mtxSets(bulb2RedT, bulb2RedV, bulb2BlueT, bulb2BlueV, bulb2GreenT, bulb2GreenV));
panel(2, 3, bulb2Time, bulb2Ticks, bulb2Band, posSets(bulb2KaT, bulb2KaV, bulb2KbT, bulb2KbV, bulb2KcT, bulb2KcV, bulb2DotT, bulb2DotR, bulb2DotB, bulb2DotG));
</script>
</body>
</html>
